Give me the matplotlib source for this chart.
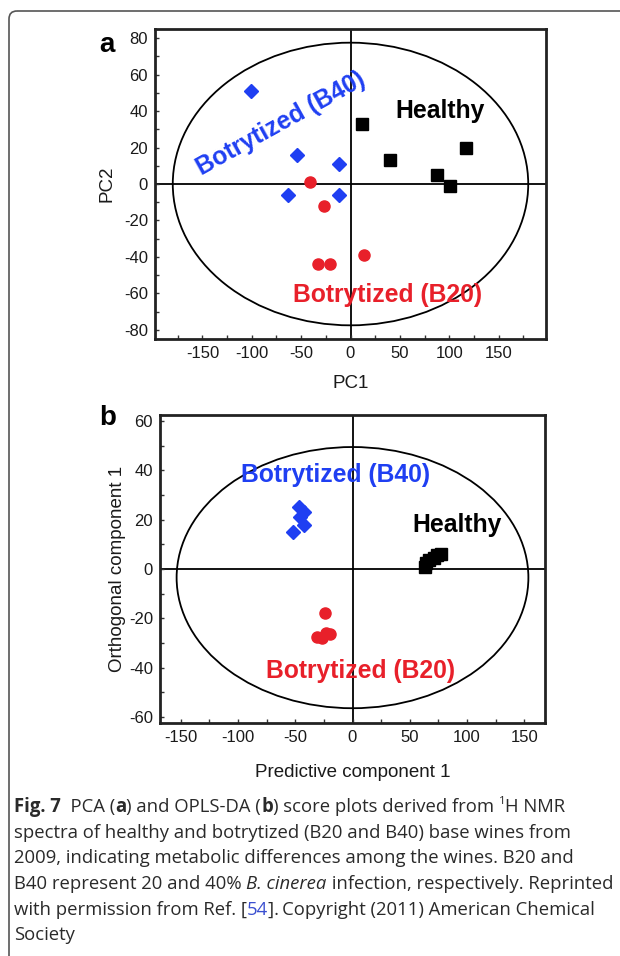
import matplotlib
matplotlib.use("Agg")
import matplotlib.pyplot as plt
from matplotlib.patches import Ellipse, FancyBboxPatch
from matplotlib.ticker import MultipleLocator

# ---- panel a: PCA scores ----
pca_b40_x = [-101, -54, -12, -63, -12]
pca_b40_y = [51, 16, 11, -6, -6]
pca_b20_x = [-41, -27, -33, -21, 14]
pca_b20_y = [1, -12, -43.7, -44, -39]
pca_healthy_x = [12, 40, 88, 101, 117]
pca_healthy_y = [33, 13, 5, -1, 19.5]

# ---- panel b: OPLS-DA scores ----
opls_b40_x = [-47, -42, -46, -42, -52]
opls_b40_y = [25, 23, 21, 18, 15]
opls_b20_x = [-24, -31, -27, -23, -20]
opls_b20_y = [-18, -27.5, -28, -26, -26.5]
opls_healthy_x = [63, 64, 67, 71, 74, 77]
opls_healthy_y = [1, 2.5, 3.5, 4.5, 5.5, 6]

BLUE = '#1f3ff2'
RED = '#e8202a'
BLACK = '#000000'

plt.rcParams['font.family'] = ['Liberation Sans', 'DejaVu Sans']
plt.rcParams['axes.unicode_minus'] = False

fig = plt.figure(figsize=(6.2, 9.56), dpi=100)
W, H = 620, 956


def ax_rect(left, top, right, bottom):
    return [left / W, 1 - bottom / H, (right - left) / W, (bottom - top) / H]


def style_axes(ax, xmaj, xmin, ymaj, ymin):
    for s in ax.spines.values():
        s.set_linewidth(2)
        s.set_color('#222222')
    ax.xaxis.set_major_locator(MultipleLocator(xmaj))
    ax.xaxis.set_minor_locator(MultipleLocator(xmin))
    ax.yaxis.set_major_locator(MultipleLocator(ymaj))
    ax.yaxis.set_minor_locator(MultipleLocator(ymin))
    ax.tick_params(which='both', direction='in', length=3, width=1, color='#333333')
    ax.tick_params(which='major', labelsize=12, labelcolor='#1a1a1a', pad=5)
    ax.axhline(0, color='black', lw=1.3, zorder=1)
    ax.axvline(0, color='black', lw=1.3, zorder=1)


def plot_groups(ax, b40, b20, healthy):
    ax.plot(b40[0], b40[1], 'D', color=BLUE, ms=7.5, mec=BLUE, ls='none', zorder=3)
    ax.plot(b20[0], b20[1], 'o', color=RED, ms=8, mec=RED, ls='none', zorder=3)
    ax.plot(healthy[0], healthy[1], 's', color=BLACK, ms=8, ls='none', zorder=3)


LABEL_SIZE = 17.8

# panel a
ax1 = fig.add_axes(ax_rect(155, 29, 546, 339))
ax1.set_xlim(-198, 198)
ax1.set_ylim(-85, 85)
style_axes(ax1, 50, 25, 20, 10)
ax1.add_patch(Ellipse((0, 0), 360, 155, fill=False, ec='black', lw=1.3, zorder=2))
plot_groups(ax1, (pca_b40_x, pca_b40_y), (pca_b20_x, pca_b20_y),
            (pca_healthy_x, pca_healthy_y))
ax1.text(91, 40, 'Healthy', color=BLACK, fontsize=LABEL_SIZE, fontweight='bold',
         ha='center', va='center')
ax1.text(-71, 33, 'Botrytized (B40)', color=BLUE, fontsize=LABEL_SIZE, fontweight='bold',
         ha='center', va='center', rotation=29, rotation_mode='anchor')
ax1.text(38, -61, 'Botrytized (B20)', color=RED, fontsize=LABEL_SIZE, fontweight='bold',
         ha='center', va='center')
ax1.set_xlabel('PC1', fontsize=13.5, color='#1a1a1a', labelpad=10)
ax1.set_ylabel('PC2', fontsize=13.5, color='#1a1a1a', labelpad=6)

# panel b
ax2 = fig.add_axes(ax_rect(160, 415, 545, 723))
ax2.set_xlim(-168, 168)
ax2.set_ylim(-62.5, 62.5)
style_axes(ax2, 50, 25, 20, 10)
ax2.add_patch(Ellipse((0, -3.5), 307, 106, fill=False, ec='black', lw=1.3, zorder=2))
plot_groups(ax2, (opls_b40_x, opls_b40_y), (opls_b20_x, opls_b20_y),
            (opls_healthy_x, opls_healthy_y))
ax2.text(-15, 38, 'Botrytized (B40)', color=BLUE, fontsize=LABEL_SIZE, fontweight='bold',
         ha='center', va='center')
ax2.text(91, 18, 'Healthy', color=BLACK, fontsize=LABEL_SIZE, fontweight='bold',
         ha='center', va='center')
ax2.text(7, -41.5, 'Botrytized (B20)', color=RED, fontsize=LABEL_SIZE, fontweight='bold',
         ha='center', va='center')
ax2.set_xlabel('Predictive component 1', fontsize=13.5, color='#1a1a1a', labelpad=14)
ax2.set_ylabel('Orthogonal component 1', fontsize=13.5, color='#1a1a1a', labelpad=2)

# panel letters
fig.text(107 / W, 1 - 45 / H, 'a', fontsize=20, fontweight='bold', ha='center', va='center')
fig.text(108 / W, 1 - 418 / H, 'b', fontsize=20, fontweight='bold', ha='center', va='center')

# outer frame (open on the right and bottom)
frame = fig.add_axes([0, 0, 1, 1], zorder=-1)
frame.set_xlim(0, W)
frame.set_ylim(H, 0)
frame.axis('off')
frame.add_patch(FancyBboxPatch((9, 11), 700, 1000, boxstyle='round,pad=0,rounding_size=8',
                               fill=False, ec='#555555', lw=1.2))

# caption
CAP_FONT = 'Open Sans'
cap_size = 13.35
caption = [
    [('Fig. 7', 'bold'), ('  PCA (', None), ('a', 'bold'), (') and OPLS-DA (', None),
     ('b', 'bold'), (') score plots derived from ', None), ('1', 'sup'), ('H NMR', None)],
    [('spectra of healthy and botrytized (B20 and B40) base wines from', None)],
    [('2009, indicating metabolic differences among the wines. B20 and', None)],
    [('B40 represent 20 and 40% ', None), ('B. cinerea', 'italic'),
     (' infection, respectively. Reprinted', None)],
    [('with permission from Ref. [', None), ('54', 'link'),
     ('].\u2009Copyright (2011) American Chemical', None)],
    [('Society', None)],
]

fig.canvas.draw()
renderer = fig.canvas.get_renderer()
base_y = 812
for i, line in enumerate(caption):
    x = 14
    y = base_y + i * 25.7
    for txt, kind in line:
        kw = dict(fontsize=cap_size, color='#2a2a2a', family=[CAP_FONT, 'DejaVu Sans'],
                  va='baseline', ha='left')
        yy = y
        if kind == 'bold':
            kw['fontweight'] = 'bold'
        elif kind == 'italic':
            kw['fontstyle'] = 'italic'
        elif kind == 'link':
            kw['color'] = '#3a4fd0'
        elif kind == 'sup':
            kw['fontsize'] = cap_size * 0.62
            yy = y - 8
        t = fig.text(x / W, 1 - yy / H, txt, **kw)
        bb = t.get_window_extent(renderer)
        x += bb.width

fig.savefig('out.png', dpi=100)
